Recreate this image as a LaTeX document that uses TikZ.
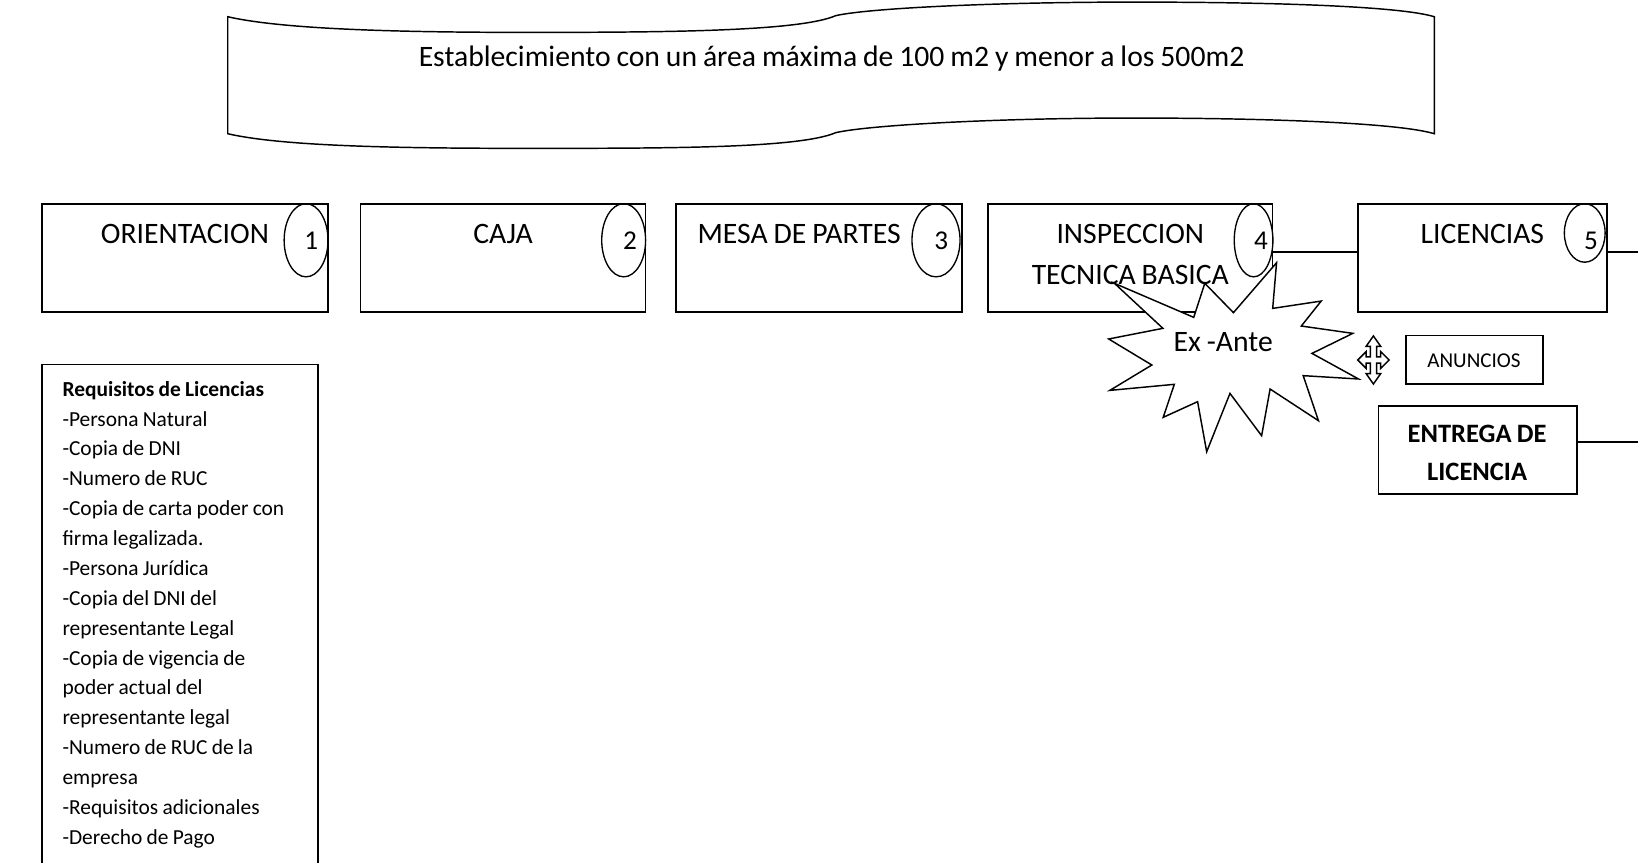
\documentclass[tikz,border=0pt]{standalone}
\usepackage{fontspec}
\setmainfont[WordSpace=0.88]{Carlito}
\begin{document}
\begin{tikzpicture}[x=1pt,y=-1pt,
  line width=1.7pt,
  bx/.style={draw=black,fill=white,rectangle,inner sep=0pt,line width=1.7pt},
  lab/.style={anchor=base,inner sep=0pt,font=\fontsize{28.4}{34}\selectfont},
  num/.style={anchor=base,inner sep=0pt,font=\fontsize{26}{30}\selectfont},
  bold/.style={anchor=base,inner sep=0pt,font=\fontsize{25.4}{30}\selectfont\bfseries},
  lnk/.style={draw=black,line width=1.7pt},
  oval/.style={draw=black,line width=1.3pt}]
\useasboundingbox (0,0) rectangle (1568,825.2);
\clip (0,0) rectangle (1568,825.2);
% title banner
\path[draw=black,fill=white,line width=1.4pt] (218,16) .. controls (270,28) and (380,31) .. (505,31)
  .. controls (640,31) and (765,30) .. (800,15)
  .. controls (830,8) and (950,2) .. (1085,2)
  .. controls (1220,2) and (1340,6) .. (1373,16)
  -- (1373,128)
  .. controls (1340,118) and (1220,113) .. (1085,113)
  .. controls (950,113) and (830,120) .. (800,127)
  .. controls (765,142) and (640,142) .. (505,142)
  .. controls (380,142) and (270,140) .. (218,128) -- cycle;
\node[lab] (title) at (796,64) {Establecimiento con un área máxima de 100 m2 y menor a los 500m2};
% step boxes
\node[bx,minimum width=274pt,minimum height=104pt] (box1) at (177,247) {};
\node[bx,minimum width=273pt,minimum height=104pt] (box2) at (481.5,247) {};
\node[bx,minimum width=274pt,minimum height=104pt] (box3) at (784,247) {};
\node[bx,minimum width=272pt,minimum height=104pt] (box4) at (1082,247) {};
\node[bx,minimum width=238pt,minimum height=104pt] (box5) at (1419,247) {};
\coordinate (c45) at (1218,241);
\coordinate (c5r) at (1568,241);
\coordinate (c6r) at (1568,423);
\draw[lnk] (c45) -- (c45 -| box5.west);
\draw[lnk] (c5r -| box5.east) -- (c5r);
% labels
\node[lab] (t1) at (177,233) {ORIENTACION};
\node[lab] (t2) at (481.5,233) {CAJA};
\node[lab] (t3) at (765,233) {MESA DE PARTES};
\node[lab] (t4a) at (1082,233) {INSPECCION};
\node[lab] (t4b) at (1082,272) {TECNICA BASICA};
\node[lab] (t5) at (1419,233) {LICENCIAS};
% number ovals
\draw[oval] (293,230) ellipse (21pt and 35pt);
\draw[oval] (597,230) ellipse (21pt and 35pt);
\draw[oval] (896,230) ellipse (23pt and 35pt);
\draw[oval] (1200,230) ellipse (18.5pt and 35pt);
\draw[oval] (1517,223) ellipse (19.5pt and 28pt);
\node[num] (n1) at (298,239) {1};
\node[num] (n2) at (603,239) {2};
\node[num] (n3) at (901,239) {3};
\node[num] (n4) at (1207,239) {4};
\node[num] (n5) at (1523,239) {5};
% starburst
\path[draw=black,fill=white,line width=1.4pt,miter limit=10]
  (1066.8,271.2) -- (1142.7,303.8) -- (1153.3,271.2) -- (1180.7,299.3) -- (1222,251.5)
  -- (1218.3,295.2) -- (1264.7,288.2) -- (1245.7,312.1) -- (1295,319.1) -- (1255.9,338.3)
  -- (1300.5,362.8) -- (1247.5,359.6) -- (1262.1,402.7) -- (1215.8,372.4) -- (1207.7,417.1)
  -- (1177.4,376.6) -- (1155.1,432.4) -- (1146.4,384.5) -- (1113.5,399.5) -- (1124.1,367.9)
  -- (1062.4,373.7) -- (1102.6,349.4) -- (1061.3,324.5) -- (1113.2,314.3) -- cycle;
\node[lab] (exante) at (1171,336) {Ex -Ante};
% four-way arrow
\begin{scope}[shift={(1314.7,344.6)}]
\path[draw=black,fill=white,line width=1.4pt,line join=miter]
  (0,-23) -- (7,-13) -- (3,-13) -- (3,-3) -- (7,-3) -- (7,-8) -- (15,0)
  -- (7,8) -- (7,3) -- (3,3) -- (3,13) -- (7,13) -- (0,23)
  -- (-7,13) -- (-3,13) -- (-3,3) -- (-7,3) -- (-7,8) -- (-15,0)
  -- (-7,-8) -- (-7,-3) -- (-3,-3) -- (-3,-13) -- (-7,-13) -- cycle;
\end{scope}
% anuncios
\node[bx,minimum width=131pt,minimum height=46.5pt] (anuncios) at (1411.4,344.5) {};
\node[anchor=base,inner sep=0pt,font=\fontsize{20.2}{24}\selectfont] (anunciost) at (1411,352) {ANUNCIOS};
% entrega
\node[bx,minimum width=190pt,minimum height=84.5pt] (entrega) at (1414.5,431) {};
\draw[lnk] (c6r -| entrega.east) -- (c6r);
\node[bold] (e1) at (1414,424) {ENTREGA DE};
\node[bold] (e2) at (1414,460) {LICENCIA};
% requirements
\node[bx,anchor=north west,minimum width=264pt,minimum height=520pt] (req) at (39.7,348) {};
\node[anchor=north west,inner sep=0pt,align=left,font=\fontsize{20.5}{28.6}\selectfont] (reqt) at (59,364) {\textbf{Requisitos de Licencias}\\
-Persona Natural\\
-Copia de DNI\\
-Numero de RUC\\
-Copia de carta poder con\\
firma legalizada.\\
-Persona Jurídica\\
-Copia del DNI del\\
representante Legal\\
-Copia de vigencia de\\
poder actual del\\
representante legal\\
-Numero de RUC de la\\
empresa\\
-Requisitos adicionales\\
-Derecho de Pago};
\end{tikzpicture}
\end{document}
